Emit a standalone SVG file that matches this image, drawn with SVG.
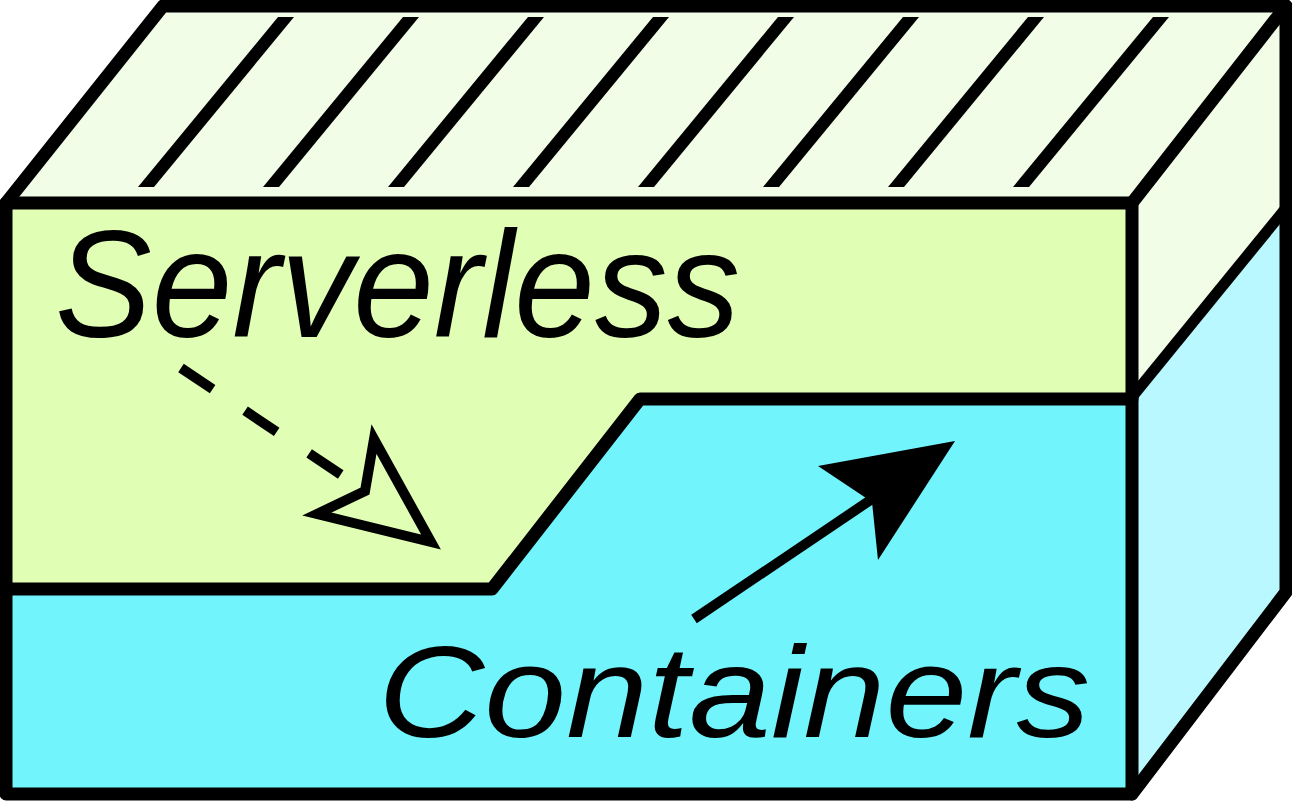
<svg xmlns="http://www.w3.org/2000/svg" width="1292" height="802" viewBox="0 0 1292 802">
<style>
.edge{fill:none;stroke:#000;stroke-width:13;stroke-linejoin:round;stroke-linecap:round}
.thin{fill:none;stroke:#000;stroke-width:10;stroke-linecap:butt}
.hatch{fill:#000}
.lbl{font-family:"Liberation Sans",Arial,sans-serif;font-style:italic;fill:#000}
</style>
<rect width="1292" height="802" fill="#ffffff"/>
<g id="box">
  <polygon points="6,203 163,6 1286,6 1132,203" fill="#f2fde8"/>
  <polygon points="1132,203 1286,6 1286,208 1132,397" fill="#f2fde8"/>
  <polygon points="1132,397 1286,208 1286,592 1132,794" fill="#b8f8fe"/>
  <g id="hatching">
    <polygon class="hatch" points="278,17 294,17 154,187 138,187"/>
    <polygon class="hatch" points="403,17 419,17 279,187 263,187"/>
    <polygon class="hatch" points="528,17 544,17 404,187 388,187"/>
    <polygon class="hatch" points="653,17 669,17 529,187 513,187"/>
    <polygon class="hatch" points="778,17 794,17 654,187 638,187"/>
    <polygon class="hatch" points="903,17 919,17 779,187 763,187"/>
    <polygon class="hatch" points="1028,17 1044,17 904,187 888,187"/>
    <polygon class="hatch" points="1153,17 1169,17 1029,187 1013,187"/>
  </g>
</g>
<g id="serverless">
  <polygon points="6,203 1132,203 1132,399 640,399 492,589 6,589" fill="#e0ffb4"/>
  <text class="lbl" x="55" y="337" font-size="152" textLength="685" lengthAdjust="spacingAndGlyphs">Serverless</text>
</g>
<g id="containers">
  <polygon points="6,589 492,589 640,399 1132,399 1132,794 6,794" fill="#72f4fc"/>
  <text class="lbl" x="378" y="737" font-size="130" textLength="712" lengthAdjust="spacingAndGlyphs">Containers</text>
</g>
<g id="outlines">
  <path class="edge" d="M6,794 L6,203 L163,6 L1286,6 L1286,592 L1132,794 Z"/>
  <path class="edge" d="M6,203 L1132,203 L1132,794"/>
  <path class="edge" d="M1132,203 L1286,6"/>
  <path class="edge" d="M6,589 L492,589 L640,399 L1132,399" stroke-linejoin="miter" stroke-linecap="butt"/>
  <path d="M1132,397 L1286,208" fill="none" stroke="#000" stroke-width="11"/>
</g>
<g id="connectors">
  <g id="migrate-dashed">
    <line class="thin" x1="181" y1="368" x2="352" y2="482" stroke-dasharray="38 39"/>
    <polygon points="431,542 374,439 365,491 317,514" fill="none" stroke="#000" stroke-width="10" stroke-linejoin="miter"/>
  </g>
  <g id="migrate-solid">
    <line class="thin" x1="694" y1="619" x2="872" y2="499" stroke-width="9"/>
    <polygon points="818,466 955,441 878,560 872,502" fill="#000"/>
  </g>
</g>
</svg>
